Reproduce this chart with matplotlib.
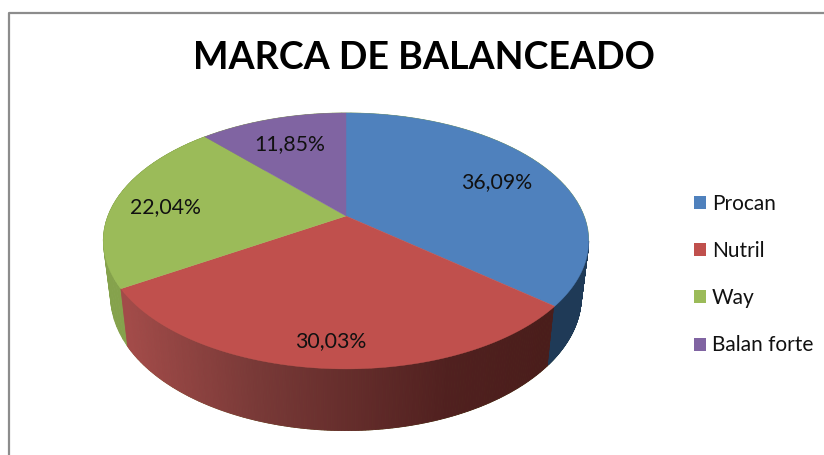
import numpy as np
import matplotlib
matplotlib.use("Agg")
import matplotlib.pyplot as plt
from matplotlib.patches import Patch

plt.rcParams["font.family"] = ["Lato", "DejaVu Sans"]

# ---------- data ----------
labels = ["Procan", "Nutril", "Way", "Balan forte"]
values = [36.09, 30.03, 22.04, 11.85]
top_colors = ["#4f81bd", "#c0504d", "#9bbb59", "#8064a2"]
title = "MARCA DE BALANCEADO"
label_x = [497, 331, 165, 290]
label_y = [182, 341, 207, 144]

# red wall gets darker from left to right
wall_x = [127, 250, 450, 549]
wall_r = [163, 122, 80, 74]
wall_g = [75, 58, 32, 29]
wall_b = [73, 56, 31, 27]

# ---------- pie geometry, pixels of the picture ----------
CX, CY = 346, 216     # vertex of the top face
K = 0.195             # perspective
A, C = 123.1, 238.0
LOW_SX, LOW_SY, LOW_Y = 0.97, 1.05, 270


def top_xy(theta):
    u, v = np.cos(theta), np.sin(theta)
    d = 1 + K * v
    return CX + C * u / d, CY - A * v / d


def low_xy(theta):
    u, v = np.cos(theta), np.sin(theta)
    d = 1 + K * v
    return CX + LOW_SX * C * u / d, LOW_Y - LOW_SY * A * v / d


def wall(ax, t1, t2, color=None):
    # side of the cylinder as narrow strips so the red one can have a gradient
    ts = np.linspace(t1, t2, 160)
    for a, b in zip(ts[:-1], ts[1:]):
        x1, y1 = top_xy(np.array([a, b]))
        x2, y2 = low_xy(np.array([b, a]))
        c = color
        if c is None:
            xm = x1.mean()
            c = (np.interp(xm, wall_x, wall_r) / 255,
                 np.interp(xm, wall_x, wall_g) / 255,
                 np.interp(xm, wall_x, wall_b) / 255)
        ax.fill(np.r_[x1, x2], np.r_[y1, y2], color=c, lw=0.6, zorder=2)


fig = plt.figure(figsize=(8.24, 4.55), dpi=100)
ax = fig.add_axes([0, 0, 1, 1])
ax.set_xlim(0, 824)
ax.set_ylim(455, 0)
ax.axis("off")

# chart frame
ax.plot([9.5, 9.5, 824], [455, 12.5, 12.5], color="#8c8c8c", lw=1.6, zorder=1)

# wedge limits, clockwise from 12 o'clock
edges = np.pi / 2 - 2 * np.pi * np.cumsum([0] + values) / sum(values)

ext = np.arcsin(K)
wall(ax, edges[3], np.pi + ext, "#85a24c")          # green, left
wall(ax, edges[2], edges[1], None)                   # red, front
wall(ax, edges[1], -ext, "#1f3a57")                  # blue, right

for i in range(len(values)):
    t = np.linspace(edges[i], edges[i + 1], 200)
    x, y = top_xy(t)
    ax.fill(np.r_[CX, x], np.r_[CY, y], color=top_colors[i], lw=0.3, zorder=3)

for v, x, y in zip(values, label_x, label_y):
    ax.text(x, y, f"{v:.2f}%".replace(".", ","), ha="center", va="center",
            fontsize=15.3, color="#111111", zorder=4)

ax.text(423.5, 58, title, ha="center", va="center", fontsize=27.1, fontweight="bold",
        color="black", zorder=4)

handles = [Patch(facecolor=c, edgecolor="none") for c in top_colors]
fig.legend(handles, labels, loc="center left", bbox_to_anchor=(694 / 824, 1 - 274.5 / 455),
           frameon=False, fontsize=15, handlelength=0.575, handleheight=0.575,
           handletextpad=0.29, labelspacing=1.31, borderpad=0, borderaxespad=0,
           labelcolor="#111111")

fig.savefig("out.png", dpi=100)
